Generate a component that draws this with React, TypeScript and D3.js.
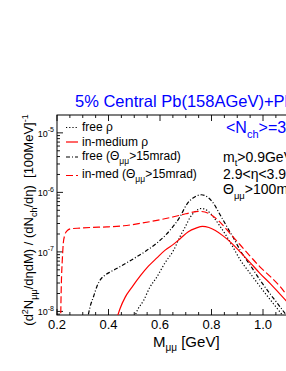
import React from "react";
import * as d3 from "d3";

// ---- data ----
const massInMedCut = [0.214, 0.2165, 0.221, 0.2245, 0.23, 0.238, 0.255, 0.29, 0.33, 0.394, 0.459, 0.524, 0.588, 0.653, 0.7, 0.755, 0.8, 0.833, 0.87, 0.911, 0.95, 0.988, 1.03, 1.066, 1.1];
const valInMedCut = [6.31e-9, 2.51e-8, 7.94e-8, 1.41e-7, 1.905e-7, 2.24e-7, 2.455e-7, 2.51e-7, 2.57e-7, 2.63e-7, 2.75e-7, 3.02e-7, 3.39e-7, 3.89e-7, 4.37e-7, 4.79e-7, 4.17e-7, 3.16e-7, 2.09e-7, 1.32e-7, 8.51e-8, 5.62e-8, 3.8e-8, 2.63e-8, 1.7e-8];

const massInMed = [0.43, 0.445, 0.465, 0.49, 0.524, 0.555, 0.588, 0.62, 0.653, 0.68, 0.71, 0.74, 0.765, 0.79, 0.815, 0.845, 0.88, 0.911, 0.95, 0.988, 1.03, 1.066, 1.1];
const valInMed = [7.08e-9, 1.12e-8, 1.74e-8, 2.51e-8, 3.98e-8, 5.75e-8, 7.94e-8, 1.07e-7, 1.35e-7, 1.7e-7, 2.19e-7, 2.51e-7, 2.69e-7, 2.57e-7, 2.29e-7, 1.86e-7, 1.38e-7, 1.0e-7, 6.61e-8, 4.37e-8, 2.88e-8, 1.95e-8, 1.35e-8];

const massFreeCut = [0.316, 0.322, 0.33, 0.342, 0.355, 0.368, 0.39, 0.41, 0.44, 0.491, 0.543, 0.588, 0.64, 0.679, 0.704, 0.73, 0.76, 0.785, 0.807, 0.83, 0.859, 0.89, 0.911, 0.95, 0.988, 1.03, 1.066, 1.1];
const valFreeCut = [6.31e-9, 8.91e-9, 1.26e-8, 1.78e-8, 2.63e-8, 3.39e-8, 4.17e-8, 4.68e-8, 5.5e-8, 7.41e-8, 1.02e-7, 1.41e-7, 2.34e-7, 3.98e-7, 6.31e-7, 8.13e-7, 9.12e-7, 8.32e-7, 6.61e-7, 4.47e-7, 2.69e-7, 1.58e-7, 1.07e-7, 6.03e-8, 3.39e-8, 1.91e-8, 1.2e-8, 7.59e-9];

const massFree = [0.497, 0.51, 0.537, 0.56, 0.588, 0.62, 0.653, 0.678, 0.698, 0.717, 0.74, 0.762, 0.785, 0.807, 0.83, 0.859, 0.885, 0.911, 0.95, 0.988, 1.02, 1.053, 1.1];
const valFree = [7.08e-9, 1.0e-8, 1.55e-8, 2.51e-8, 3.8e-8, 6.61e-8, 1.07e-7, 1.82e-7, 2.63e-7, 3.8e-7, 4.9e-7, 5.37e-7, 4.9e-7, 3.89e-7, 2.82e-7, 1.82e-7, 1.17e-7, 7.41e-8, 4.37e-8, 2.63e-8, 1.74e-8, 1.15e-8, 6.31e-9];

const xMajorTicks = [0.2, 0.4, 0.6, 0.8, 1.0];
const xTickLabels = ["0.2", "0.4", "0.6", "0.8", "1.0"];
const yExponents = [-8, -7, -6, -5];

const FONT = "'Liberation Sans', Arial, Helvetica, sans-serif";

export default function App() {
  const left = 57, right = 288.75, top = 115, bottom = 315;
  const x = d3.scaleLinear().domain([0.2, 1.1]).range([left, right]);
  const y = d3.scaleLog().domain([Math.pow(10, -8.06), Math.pow(10, -4.7)]).range([bottom, top]);

  const mk = (ms: number[], vs: number[]) =>
    d3.line<number>().x((_, i) => x(ms[i])).y((v) => y(v)).curve(d3.curveMonotoneX)(vs) || "";

  const series = [
    { d: mk(massFree, valFree), stroke: "#000", dash: "1.2,2" },
    { d: mk(massFreeCut, valFreeCut), stroke: "#000", dash: "4,2,1,2" },
    { d: mk(massInMed, valInMed), stroke: "#ff0000", dash: "none" },
    { d: mk(massInMedCut, valInMedCut), stroke: "#ff0000", dash: "7,3" },
  ];

  const xMinor = d3.range(0, 19).map((i) => 0.2 + i * 0.05);
  const yMinor: number[] = [];
  for (let e = -9; e <= -5; e++) {
    for (let k = 2; k <= 9; k++) {
      const v = k * Math.pow(10, e);
      if (v >= y.domain()[0] && v <= y.domain()[1]) yMinor.push(v);
    }
  }

  const legend = [
    { label: "free ρ", dash: "1.2,2", stroke: "#000", ly: 127.5, by: 131, sub: null as null | [string, string, string] },
    { label: "in-medium ρ", dash: "none", stroke: "#ff0000", ly: 142, by: 145.5, sub: null },
    { label: "", dash: "4,2,1,2", stroke: "#000", ly: 157, by: 160, sub: ["free (Θ", "μμ", ">15mrad)"] as [string, string, string] },
    { label: "", dash: "7,3", stroke: "#ff0000", ly: 175.5, by: 178, sub: ["in-med (Θ", "μμ", ">15mrad)"] as [string, string, string] },
  ];

  return (
    <svg width={286} height={371} style={{ position: "absolute", left: 0, top: 0, background: "#fff" }} fontFamily={FONT}>
      <defs>
        <clipPath id="plotclip">
          <rect x={left} y={top} width={right - left} height={bottom - top} />
        </clipPath>
      </defs>
      <rect x={0} y={0} width={286} height={371} fill="#fff" />

      {/* frame */}
      <rect x={left} y={top} width={right - left} height={bottom - top} fill="none" stroke="#000" strokeWidth={1} />

      {/* x ticks */}
      {xMinor.map((t, i) => {
        const major = xMajorTicks.some((m) => Math.abs(m - t) < 1e-6);
        const len = major ? 6 : 3;
        return (
          <g key={"xt" + i}>
            <line x1={x(t)} x2={x(t)} y1={bottom} y2={bottom - len} stroke="#000" strokeWidth={0.9} />
            <line x1={x(t)} x2={x(t)} y1={top} y2={top + len} stroke="#000" strokeWidth={0.9} />
          </g>
        );
      })}
      {xMajorTicks.map((t, i) => (
        <text key={"xl" + i} x={x(t)} y={329} fontSize={13} textAnchor="middle" fill="#000">
          {xTickLabels[i]}
        </text>
      ))}

      {/* y ticks */}
      {yExponents.map((e) => {
        const v = Math.pow(10, e);
        return (
          <g key={"ym" + e}>
            <line x1={left} x2={left + 6} y1={y(v)} y2={y(v)} stroke="#000" strokeWidth={0.9} />
            <text x={54} y={y(v) + 4} fontSize={9} textAnchor="end" fill="#000">
              10<tspan fontSize={7} dy={-4.5}>{String(e)}</tspan>
            </text>
          </g>
        );
      })}
      {yMinor.map((v, i) => (
        <line key={"yn" + i} x1={left} x2={left + 3} y1={y(v)} y2={y(v)} stroke="#000" strokeWidth={0.9} />
      ))}

      {/* curves */}
      <g clipPath="url(#plotclip)">
        {series.map((s, i) => (
          <path key={"s" + i} d={s.d} fill="none" stroke={s.stroke} strokeWidth={1.2} strokeDasharray={s.dash} />
        ))}
      </g>

      {/* legend */}
      {legend.map((l, i) => (
        <g key={"lg" + i}>
          <line x1={66} x2={78} y1={l.ly} y2={l.ly} stroke={l.stroke} strokeWidth={1.2} strokeDasharray={l.dash} />
          <text x={82} y={l.by} fontSize={12} fill="#000">
            {l.sub ? (
              <>
                {l.sub[0]}
                <tspan fontSize={8.5} dy={4}>{l.sub[1]}</tspan>
                <tspan dy={-4}>{l.sub[2]}</tspan>
              </>
            ) : (
              l.label
            )}
          </text>
        </g>
      ))}

      {/* title */}
      <text x={75} y={106.5} fontSize={16.5} fill="#0000ff">5% Central Pb(158AGeV)+Pb</text>
      <text x={226} y={133} fontSize={16} fill="#0000ff">
        &lt;N<tspan fontSize={11} dy={5}>ch</tspan><tspan dy={-5}>&gt;=330</tspan>
      </text>

      {/* cuts */}
      <text x={223} y={161.5} fontSize={14} fill="#000">
        m<tspan fontSize={9.5} dy={4}>t</tspan><tspan dy={-4}>&gt;0.9GeV</tspan>
      </text>
      <text x={223} y={178.5} fontSize={14} fill="#000">2.9&lt;η&lt;3.9</text>
      <text x={223} y={194} fontSize={14} fill="#000">
        Θ<tspan fontSize={9.5} dy={4.5}>μμ</tspan><tspan dy={-4.5}>&gt;100mrad</tspan>
      </text>

      {/* x axis title */}
      <text x={153} y={346.5} fontSize={15} fill="#000">
        M<tspan fontSize={10} dy={4.5}>μμ</tspan><tspan dy={-4.5}>{"\u00a0[GeV]"}</tspan>
      </text>

      {/* y axis title */}
      <text transform="translate(33,220) rotate(-90)" fontSize={13} textAnchor="middle" fill="#000">
        (d<tspan fontSize={9} dy={-5}>2</tspan>
        <tspan dy={5}>N</tspan>
        <tspan fontSize={9} dy={4}>μμ</tspan>
        <tspan dy={-4}>/dηdM) / (dN</tspan>
        <tspan fontSize={9} dy={4}>ch</tspan>
        <tspan dy={-4}>{"/dη)\u00a0\u00a0[100MeV]"}</tspan>
        <tspan fontSize={9} dy={-5}>-1</tspan>
      </text>
    </svg>
  );
}
